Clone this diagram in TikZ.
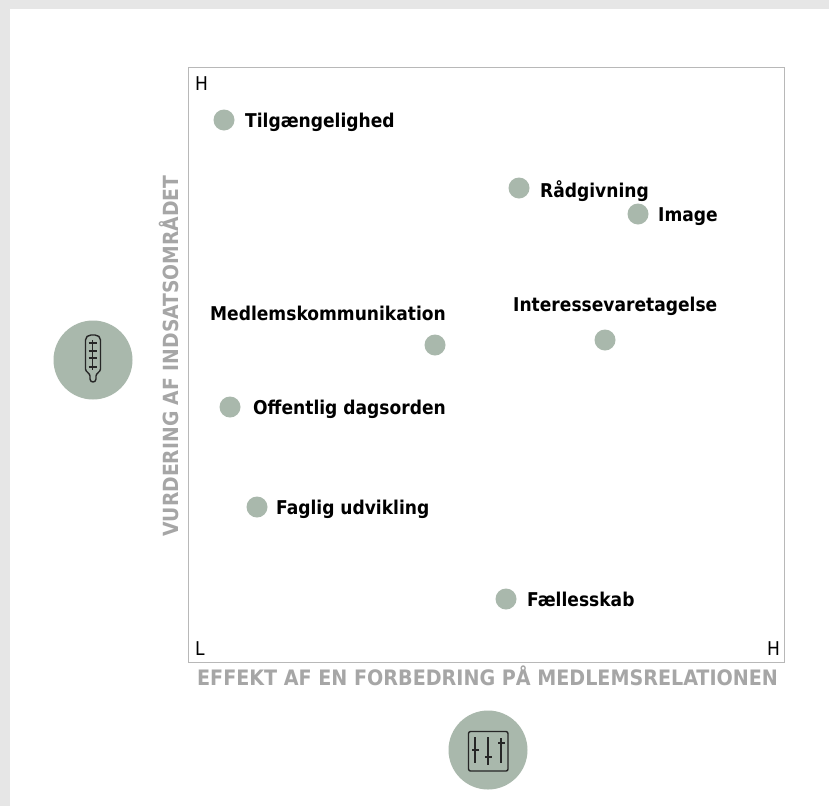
\documentclass[tikz,border=0pt]{standalone}
\usepackage{fontspec}
\setmainfont{DejaVu Sans Condensed}
\definecolor{sage}{HTML}{A9B8AC}
\definecolor{framegrey}{HTML}{B8B8B8}
\definecolor{axisgrey}{HTML}{A6A6A6}
\definecolor{pagegrey}{HTML}{E6E6E6}
\tikzset{
  dot/.style={circle,fill=sage,draw=none,minimum size=21pt,inner sep=0pt},
  lab/.style={font=\bfseries\fontsize{19}{22}\selectfont,text=black,inner sep=0pt,anchor=base west},
  corner/.style={font=\fontsize{19}{22}\selectfont,text=black,inner sep=0pt,anchor=base west},
  axislab/.style={font=\bfseries\fontsize{21.25}{24}\selectfont,text=axisgrey,inner sep=0pt,anchor=base},
  axislabv/.style={font=\bfseries\fontsize{20.85}{24}\selectfont,text=axisgrey,inner sep=0pt,anchor=base},
  badge/.style={circle,fill=sage,draw=none,minimum size=79pt,inner sep=0pt},
  icon/.style={draw=black!85,line width=1.4pt,line join=round}
}
\begin{document}
\begin{tikzpicture}[x=1pt,y=-1pt]
\useasboundingbox (0,0) rectangle (829,806);
\fill[white] (0,0) rectangle (829,806);
\fill[pagegrey] (0,0) rectangle (829,9);
\fill[pagegrey] (0,0) rectangle (10,806);
\draw[framegrey,line width=1pt] (188.5,67.5) rectangle (784.5,662.5);
\node[corner] (h1) at (195,90) {H};
\node[corner] (l1) at (195,655) {L};
\node[corner] (h2) at (767,655) {H};
\node[dot] (d1) at (224,120) {};
\node[lab] (t1) at (245,127) {Tilgængelighed};
\node[dot] (d2) at (519,188) {};
\node[lab] (t2) at (540,197) {Rådgivning};
\node[dot] (d3) at (638,214) {};
\node[lab] (t3) at (658,221) {Image};
\node[dot] (d4) at (435,345) {};
\node[lab] (t4) at (210,320) {Medlemskommunikation};
\node[dot] (d5) at (605,340) {};
\node[lab] (t5) at (513,311) {Interessevaretagelse};
\node[dot] (d6) at (230,407) {};
\node[lab] (t6) at (253,414) {Offentlig dagsorden};
\node[dot] (d7) at (257,507) {};
\node[lab] (t7) at (276,514) {Faglig udvikling};
\node[dot] (d8) at (506,599) {};
\node[lab] (t8) at (527,606) {Fællesskab};
\node[axislab] (ax) at (487.5,685) {EFFEKT AF EN FORBEDRING PÅ MEDLEMSRELATIONEN};
\node[axislabv,rotate=90] (ay) at (178,356) {VURDERING AF INDSATSOMRÅDET};
\node[badge] (b1) at (93,360) {};
\node[badge] (b2) at (488,750) {};
% thermometer
\draw[icon] (85.5,340) .. controls (85.5,337) and (88,335) .. (91,335) -- (95,335)
  .. controls (98,335) and (100.5,337) .. (100.5,340) -- (100.5,369)
  .. controls (100.5,372) and (96,373) .. (96,376) -- (96,379)
  .. controls (96,383) and (90,383) .. (90,379) -- (90,376)
  .. controls (90,373) and (85.5,372) .. (85.5,369) -- cycle;
\draw[icon,line width=1.3pt] (92.7,340) -- (92.7,370);
\foreach \yy in {343,351,358,367}{\draw[icon,line width=1.3pt] (88.5,\yy) -- (97,\yy);}
% sliders
\draw[icon,rounded corners=2pt] (468.5,731.5) rectangle (508,771);
\draw[icon] (475,737) -- (475,763);
\draw[icon] (488,737) -- (488,765);
\draw[icon] (501,738) -- (501,763);
\draw[icon] (472,750) -- (479,750);
\draw[icon] (485,757) -- (492,757);
\draw[icon] (498,743) -- (505,743);
\end{tikzpicture}
\end{document}
